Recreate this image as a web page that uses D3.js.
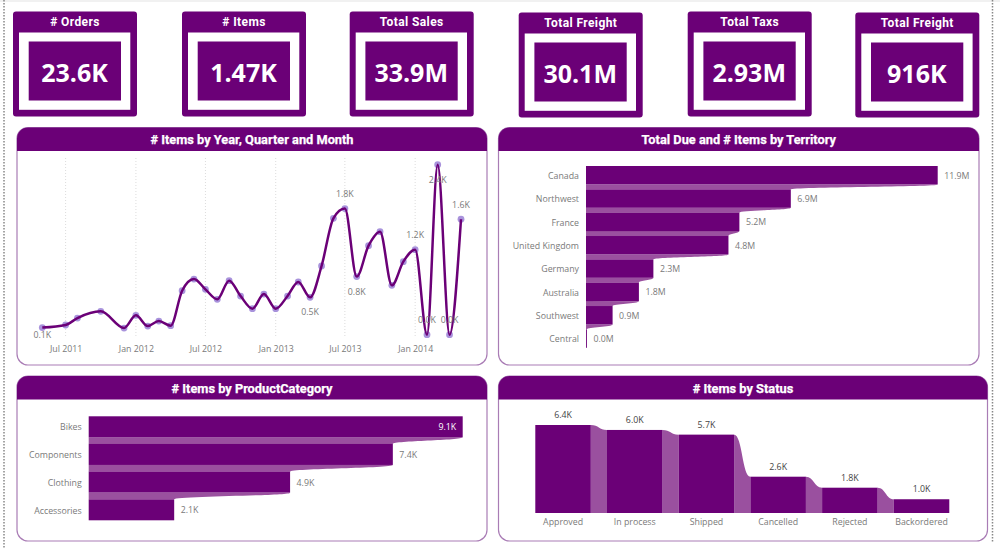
<!DOCTYPE html>
<html><head><meta charset="utf-8">
<script src="https://cdn.jsdelivr.net/npm/d3@7"></script>
<style>
html,body{margin:0;padding:0;background:#fff;overflow:hidden}
svg{display:block}
text{font-family:"Open Sans",sans-serif}
.title{font-family:Roboto,sans-serif;font-weight:700;fill:#fff;text-anchor:middle}
.lbl{font-size:8.8px;fill:#7a7a7a}
</style></head><body><svg id="c" width="1000" height="553"></svg>
<script>
const cardTitles=["# Orders","# Items","Total Sales","Total Freight","Total Taxs","Total Freight"];
const cardValues=["23.6K","1.47K","33.9M","30.1M","2.93M","916K"];
const lineDates=["2011-05","2011-07","2011-08","2011-10","2011-12","2012-01","2012-02","2012-03","2012-04","2012-05","2012-06","2012-07","2012-08","2012-09","2012-10","2012-11","2012-12","2013-01","2013-02","2013-03","2013-04","2013-05","2013-06","2013-07","2013-08","2013-09","2013-10","2013-11","2013-12","2014-01","2014-02","2014-03","2014-04","2014-05"];
const lineValues=[0.10,0.137,0.235,0.33,0.094,0.273,0.122,0.193,0.127,0.621,0.786,0.64,0.50,0.763,0.546,0.367,0.574,0.367,0.546,0.744,0.527,0.97,1.643,1.78,0.82,1.257,1.455,0.697,1.031,1.2,0,2.4,0,1.63];
const lineTicks=["2011-07","2012-01","2012-07","2013-01","2013-07","2014-01"];
const labelsAbove=["2013-07","2014-01","2014-02","2014-04","2014-05"];
const labelsBelow=["2013-04","2013-08","2014-03"];
const labelsClose=["2011-05"];
const territories=["Canada","Northwest","France","United Kingdom","Germany","Australia","Southwest","Central"];
const territoryDue=[11.9,6.93,5.19,4.82,2.28,1.79,0.9,0.03];
const categories=["Bikes","Components","Clothing","Accessories"];
const categoryItems=[9.1,7.4,4.9,2.08];
const statuses=["Approved","In process","Shipped","Cancelled","Rejected","Backordered"];
const statusItems=[6.4,6.04,5.7,2.64,1.84,1.0];

const DARK="#6b0077",RIB="#9a509f",EDGE="#a97cb5";
const svg=d3.select("#c");

// page furniture
svg.append("rect").attr("width",1000).attr("height",2).attr("fill","#f1f1f1");
[[4,549],[992.5,543]].forEach(([x,y])=>svg.append("line").attr("x1",x).attr("x2",x).attr("y1",0).attr("y2",y)
  .attr("stroke","#888").attr("stroke-width",1.5).attr("stroke-dasharray","1.5 1.5"));

// KPI cards
const cardX=[13,182,349.7,518.7,687.7,855.3],cardY=[11.5,11.5,11.5,12.5,11.5,12.5];
cardTitles.forEach((t,i)=>{
  const g=svg.append("g").attr("transform",`translate(${cardX[i]},${cardY[i]})`);
  g.append("rect").attr("width",124).attr("height",105).attr("rx",3).attr("fill",DARK);
  g.append("rect").attr("x",6).attr("y",21).attr("width",111.3).attr("height",77.3).attr("fill","#fff");
  g.append("rect").attr("x",15.7).attr("y",30).attr("width",92.3).attr("height",59).attr("fill",DARK);
  g.append("text").attr("class","title").attr("x",62).attr("y",14.5).attr("font-size",12).attr("font-weight",500).attr("letter-spacing",.4).text(t);
  g.append("text").attr("x",61.5).attr("y",70.6).attr("text-anchor","middle").attr("fill","#fff")
    .attr("font-size",25).attr("font-weight",700).text(cardValues[i]);
});

function panel(x0,x1,y0,y1,title){
  const r=11,hb=y0+23.5;
  svg.append("rect").attr("x",x0).attr("y",y0).attr("width",x1-x0).attr("height",y1-y0).attr("rx",r)
    .attr("fill","#fff").attr("stroke",EDGE).attr("stroke-width",1.2);
  const p=d3.path();
  p.moveTo(x0,hb);p.lineTo(x0,y0+r);p.arcTo(x0,y0,x0+r,y0,r);p.lineTo(x1-r,y0);p.arcTo(x1,y0,x1,y0+r,r);p.lineTo(x1,hb);p.closePath();
  svg.append("path").attr("d",p.toString()).attr("fill",DARK);
  svg.append("text").attr("class","title").attr("x",(x0+x1)/2).attr("y",y0+16.5).attr("font-size",12.8)
    .attr("stroke","#fff").attr("stroke-width",.25).text(title);
}
panel(17,487,127.5,365,"# Items by Year, Quarter and Month");
panel(498.5,979,127.5,365,"Total Due and # Items by Territory");
panel(17,487,376,541,"# Items by ProductCategory");
panel(498.5,987.5,376,541,"# Items by Status");

// Line chart
const parse=d3.utcParse("%Y-%m");
const xL=d3.scaleUtc().domain([parse("2011-05"),parse("2014-05")]).range([42.3,461]);
const yL=d3.scaleLinear().domain([0,2.4]).range([334.7,164.7]);
const lineData=lineDates.map((d,i)=>({key:d,date:parse(d),v:lineValues[i]}));
svg.append("g").selectAll("line").data(lineTicks).join("line")
  .attr("x1",d=>xL(parse(d))).attr("x2",d=>xL(parse(d))).attr("y1",158).attr("y2",336)
  .attr("stroke","#dcdcdc").attr("stroke-dasharray","1 2");
const axL=svg.append("g").attr("transform","translate(0,342.5)")
  .call(d3.axisBottom(xL).tickValues(lineTicks.map(parse)).tickSize(0).tickPadding(3).tickFormat(d3.utcFormat("%b %Y")));
axL.select(".domain").remove();
axL.selectAll("text").attr("class","lbl").attr("font-family",null);
svg.append("g").selectAll("circle").data(lineData).join("circle")
  .attr("cx",d=>xL(d.date)).attr("cy",d=>yL(d.v)).attr("r",3.4).attr("fill","#9a80d6").attr("opacity",.85);
svg.append("path").attr("d",d3.line().x(d=>xL(d.date)).y(d=>yL(d.v)).curve(d3.curveMonotoneX)(lineData))
  .attr("fill","none").attr("stroke",DARK).attr("stroke-width",2.5);
const fk=d=>d3.format(".1f")(d)+"K", fm=d=>d3.format(".1f")(d)+"M";
const labelOffset=k=>labelsAbove.includes(k)?-11.7:labelsClose.includes(k)?10.3:18;
svg.append("g").selectAll("text").data(lineData.filter(d=>labelsAbove.concat(labelsBelow,labelsClose).includes(d.key))).join("text")
  .attr("class","lbl").attr("text-anchor","middle").attr("x",d=>xL(d.date))
  .attr("y",d=>yL(d.v)+labelOffset(d.key)).text(d=>fk(d.v));

// Ribbon helpers (horizontal)
function hRibbons(names,vals,x,y,fmt,insideFirst){
  const gap=svg.append("g"),bars=svg.append("g"),txt=svg.append("g");
  names.forEach((n,i)=>{
    if(i<names.length-1){
      const b=y(n)+y.bandwidth(),t=y(names[i+1]);
      const edge=d3.line().curve(d3.curveBumpY)([[x(vals[i]),b],[x(vals[i+1]),t]]);
      gap.append("path").attr("d",edge+`L${x(0)},${t}L${x(0)},${b}Z`).attr("fill",RIB);
    }
  });
  bars.selectAll("rect").data(names).join("rect").attr("x",x(0)).attr("y",d=>y(d))
    .attr("width",(d,i)=>x(vals[i])-x(0)).attr("height",y.bandwidth()).attr("fill",DARK);
  const ax=svg.append("g").attr("transform",`translate(${x(0)},0)`).call(d3.axisLeft(y).tickSize(0).tickPadding(7));
  ax.select(".domain").remove();
  ax.selectAll("text").attr("class","lbl").attr("font-family",null).attr("dy","0.42em");
  txt.selectAll("text").data(names).join("text").attr("class","lbl")
    .attr("y",d=>y(d)+y.bandwidth()/2+3.5)
    .attr("x",(d,i)=>x(vals[i])+((i===0&&insideFirst)?-6.5:6.5))
    .attr("text-anchor",(d,i)=>(i===0&&insideFirst)?"end":"start")
    .style("fill",(d,i)=>(i===0&&insideFirst)?"#fff":null)
    .text((d,i)=>fmt(vals[i]));
}
const xT=d3.scaleLinear().domain([0,11.9]).range([586,937.7]);
const yT=d3.scaleBand().domain(territories).range([166-2.45,347.8+2.45]).paddingInner(.21).paddingOuter(.105);
hRibbons(territories,territoryDue,xT,yT,fm,false);
const xC=d3.scaleLinear().domain([0,9.1]).range([88.7,462.7]);
const yC=d3.scaleBand().domain(categories).range([416.3-3.35,520.3+3.35]).paddingInner(.242).paddingOuter(.121);
hRibbons(categories,categoryItems,xC,yC,fk,true);

// Status ribbon (vertical)
const xS=d3.scaleBand().domain(statuses).range([535.3-8.1,949.3+8.1]).paddingInner(.226).paddingOuter(.113);
const yS=d3.scaleLinear().domain([0,6.4]).range([513,425]);
statuses.forEach((n,i)=>{
  if(i<statuses.length-1){
    const a=xS(n)+xS.bandwidth(),b=xS(statuses[i+1]);
    const edge=d3.line().curve(d3.curveBumpX)([[a,yS(statusItems[i])],[b,yS(statusItems[i+1])]]);
    svg.append("path").attr("d",edge+`L${b},${yS(0)}L${a},${yS(0)}Z`).attr("fill",RIB);
  }
});
svg.append("g").selectAll("rect").data(statuses).join("rect").attr("x",d=>xS(d)).attr("width",xS.bandwidth())
  .attr("y",(d,i)=>yS(statusItems[i])).attr("height",(d,i)=>yS(0)-yS(statusItems[i])).attr("fill",DARK);
svg.append("g").selectAll("text").data(statuses).join("text").attr("class","lbl").style("fill","#444")
  .attr("text-anchor","middle").attr("x",d=>xS(d)+xS.bandwidth()/2).attr("y",(d,i)=>yS(statusItems[i])-7)
  .text((d,i)=>fk(statusItems[i]));
const axS=svg.append("g").attr("transform","translate(0,513)").call(d3.axisBottom(xS).tickSize(0).tickPadding(6));
axS.select(".domain").remove();
axS.selectAll("text").attr("class","lbl").attr("font-family",null);
</script></body></html>
